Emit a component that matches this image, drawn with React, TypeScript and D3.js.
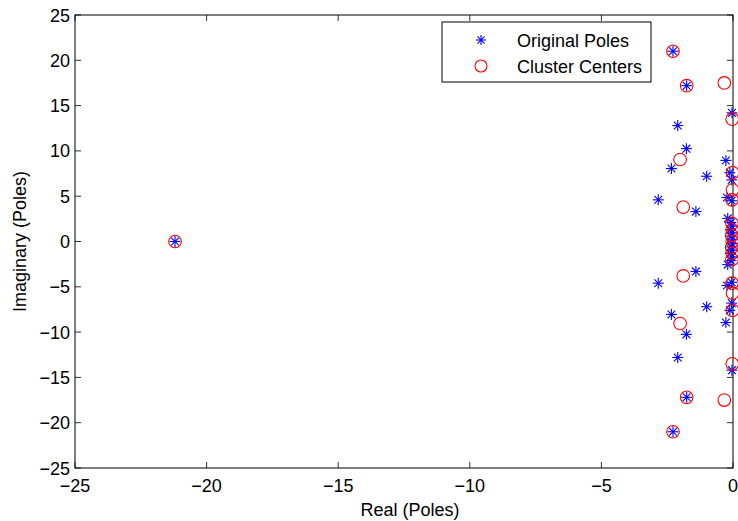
import React from "react";
import * as d3 from "d3";

// Original poles (real part, imaginary part)
const poleRe = [
  -21.2,
  -2.28, -2.28, -1.76, -1.76, -0.04, -0.04, -2.1, -2.1, -1.77, -1.77,
  -0.27, -0.27, -2.34, -2.34, -0.12, -0.12, -1.0, -1.0, -0.05, -0.05,
  -0.23, -0.23, -2.84, -2.84, -0.05, -0.05, -1.41, -1.41, -0.2, -0.2,
  -0.08, -0.08, -0.05, -0.05, -0.1, -0.1, -0.04, -0.04, -0.07, -0.07,
  -0.03, -0.03,
];
const poleIm = [
  0,
  21.0, -21.0, 17.2, -17.2, 14.2, -14.2, 12.8, -12.8, 10.25, -10.25,
  8.95, -8.95, 8.05, -8.05, 7.6, -7.6, 7.2, -7.2, 6.8, -6.8,
  4.85, -4.85, 4.6, -4.6, 4.5, -4.5, 3.3, -3.3, 2.55, -2.55,
  2.1, -2.1, 1.7, -1.7, 1.3, -1.3, 0.95, -0.95, 0.6, -0.6,
  0.25, -0.25,
];

// Cluster centers (real part, imaginary part)
const centerRe = [
  -21.2,
  -2.28, -2.28, -1.76, -1.76, -0.33, -0.33, -0.03, -0.03, -2.01, -2.01,
  -0.02, -0.02, -0.02, -0.02, -0.04, -0.04, -1.89, -1.89, -0.04, -0.04,
  -0.03, -0.03, -0.05, -0.05, -0.03,
];
const centerIm = [
  0,
  21.0, -21.0, 17.2, -17.2, 17.5, -17.5, 13.5, -13.5, 9.05, -9.05,
  7.6, -7.6, 5.7, -5.7, 4.6, -4.6, 3.8, -3.8, 2.0, -2.0,
  1.3, -1.3, 0.65, -0.65, 0,
];

const xTicks = [-25, -20, -15, -10, -5, 0];
const yTicks = [-25, -20, -15, -10, -5, 0, 5, 10, 15, 20, 25];
const legendLabels = ["Original Poles", "Cluster Centers"];

const W = 738;
const H = 521;
const left = 75;
const right = 733;
const top = 15;
const bottom = 468;
const FONT = "'Liberation Sans', Arial, Helvetica, sans-serif";
const FS = 18;
const TICK = 6;
const fmt = (v: number) => (v < 0 ? "\u2212" + Math.abs(v) : String(v));

function Star({ cx, cy, r }: { cx: number; cy: number; r: number }) {
  const d = r * Math.SQRT1_2;
  return (
    <g stroke="#0000ff" strokeWidth={1.1}>
      <line x1={cx - r} y1={cy} x2={cx + r} y2={cy} />
      <line x1={cx} y1={cy - r} x2={cx} y2={cy + r} />
      <line x1={cx - d} y1={cy - d} x2={cx + d} y2={cy + d} />
      <line x1={cx - d} y1={cy + d} x2={cx + d} y2={cy - d} />
    </g>
  );
}

export default function App() {
  const x = d3.scaleLinear().domain([-25, 0]).range([left, right]);
  const y = d3.scaleLinear().domain([-25, 25]).range([bottom, top]);

  const poles = poleRe.map((re, i) => [re, poleIm[i]] as [number, number]);
  const centers = centerRe.map((re, i) => [re, centerIm[i]] as [number, number]);

  const legX = 442;
  const legY = 22;
  const legW = 209;
  const legH = 60;

  return (
    <svg
      width={W}
      height={H}
      style={{ position: "absolute", left: 0, top: 0, background: "#fff" }}
      fontFamily={FONT}
    >
      <rect x={0} y={0} width={W} height={H} fill="#fff" />
      <rect x={left} y={top} width={right - left} height={bottom - top} fill="#fff" />

      {/* ticks on all four sides, pointing inward */}
      <g stroke="#333" strokeWidth={1}>
        {xTicks.map((t) => (
          <g key={"xt" + t}>
            <line x1={x(t)} x2={x(t)} y1={bottom} y2={bottom - TICK} />
            <line x1={x(t)} x2={x(t)} y1={top} y2={top + TICK} />
          </g>
        ))}
        {yTicks.map((t) => (
          <g key={"yt" + t}>
            <line x1={left} x2={left + TICK} y1={y(t)} y2={y(t)} />
            <line x1={right} x2={right - TICK} y1={y(t)} y2={y(t)} />
          </g>
        ))}
      </g>
      <rect
        x={left}
        y={top}
        width={right - left}
        height={bottom - top}
        fill="none"
        stroke="#000"
        strokeWidth={1}
      />

      {/* tick labels */}
      <g fontSize={FS} fill="#000">
        {xTicks.map((t) => (
          <text key={"xl" + t} x={x(t)} y={bottom + 24} textAnchor="middle">
            {fmt(t)}
          </text>
        ))}
        {yTicks.map((t) => (
          <text key={"yl" + t} x={left - 5} y={y(t) + 6.5} textAnchor="end">
            {fmt(t)}
          </text>
        ))}
      </g>

      {/* axis titles */}
      <text x={(left + right) / 2 + 6} y={516} textAnchor="middle" fontSize={FS}>
        Real (Poles)
      </text>
      <text
        transform={`translate(26,${(top + bottom) / 2}) rotate(-90)`}
        textAnchor="middle"
        fontSize={FS}
      >
        Imaginary (Poles)
      </text>

      {/* data */}
      {poles.map(([re, im], i) => (
        <Star key={"p" + i} cx={x(re)} cy={y(im)} r={5.5} />
      ))}
      {centers.map(([re, im], i) => (
        <circle
          key={"c" + i}
          cx={x(re)}
          cy={y(im)}
          r={6.3}
          fill="none"
          stroke="#ff0000"
          strokeWidth={1.1}
        />
      ))}

      {/* legend */}
      <rect x={legX} y={legY} width={legW} height={legH} fill="#fff" stroke="#000" strokeWidth={1} />
      <Star cx={481} cy={40} r={5} />
      <circle cx={481} cy={66} r={6} fill="none" stroke="#ff0000" strokeWidth={1.1} />
      <text x={517} y={46.5} fontSize={FS}>
        {legendLabels[0]}
      </text>
      <text x={517} y={72.5} fontSize={FS}>
        {legendLabels[1]}
      </text>
    </svg>
  );
}
